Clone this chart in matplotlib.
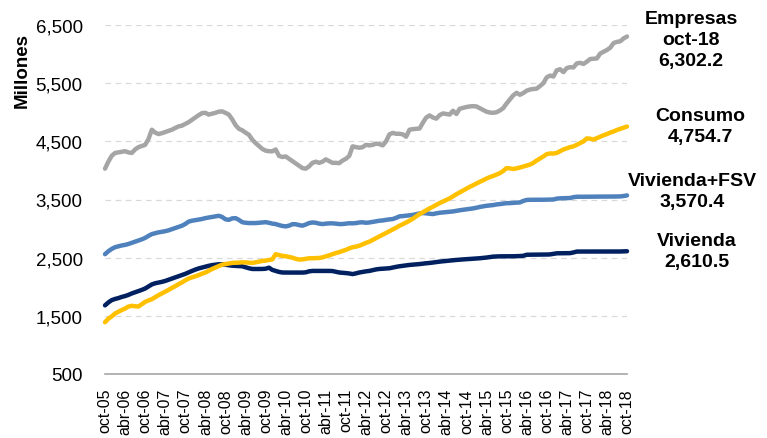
import numpy as np
import matplotlib.pyplot as plt
from matplotlib.ticker import FuncFormatter

plt.rcParams['font.family'] = ['Liberation Sans', 'DejaVu Sans']

# etiquetas del eje x (cada 6 meses, oct-05 a oct-18)
etiquetas = ['oct-05', 'abr-06', 'oct-06', 'abr-07', 'oct-07', 'abr-08', 'oct-08',
             'abr-09', 'oct-09', 'abr-10', 'oct-10', 'abr-11', 'oct-11', 'abr-12',
             'oct-12', 'abr-13', 'oct-13', 'abr-14', 'oct-14', 'abr-15', 'oct-15',
             'abr-16', 'oct-16', 'abr-17', 'oct-17', 'abr-18', 'oct-18']

# saldos mensuales (millones), oct-05 .. oct-18
empresas = [4030, 4150, 4250, 4300, 4310, 4320, 4330, 4310, 4300, 4360, 4400, 4420,
            4440, 4540, 4700, 4650, 4625, 4640, 4660, 4680, 4700, 4730, 4757, 4770,
            4800, 4830, 4870, 4910, 4950, 4985, 4990, 4960, 4975, 4990, 5010, 5015,
            4990, 4960, 4880, 4780, 4716, 4690, 4650, 4613, 4530, 4470, 4420, 4370,
            4340, 4330, 4328, 4360, 4250, 4230, 4240, 4200, 4160, 4120, 4080, 4040,
            4030, 4070, 4130, 4150, 4130, 4150, 4190, 4160, 4130, 4130, 4125, 4170,
            4200, 4250, 4414, 4400, 4390, 4400, 4440, 4430, 4440, 4460, 4453, 4430,
            4500, 4620, 4645, 4630, 4630, 4620, 4580, 4700, 4710, 4715, 4720, 4820,
            4910, 4945, 4910, 4890, 4950, 4980, 4970, 4960, 5025, 4970, 5060, 5075,
            5090, 5100, 5105, 5100, 5070, 5040, 5010, 4995, 4990, 5000, 5030, 5070,
            5150, 5220, 5290, 5335, 5300, 5330, 5370, 5390, 5400, 5405, 5450, 5500,
            5600, 5630, 5615, 5720, 5740, 5690, 5760, 5775, 5770, 5840, 5850, 5830,
            5870, 5915, 5920, 5925, 6010, 6040, 6070, 6110, 6190, 6210, 6220, 6270,
            6302.2]

consumo = [1390, 1450, 1490, 1540, 1570, 1600, 1625, 1660, 1672, 1665, 1660, 1700,
           1740, 1765, 1786, 1820, 1855, 1885, 1915, 1946, 1980, 2010, 2044, 2075,
           2110, 2142, 2160, 2180, 2200, 2225, 2244, 2275, 2305, 2330, 2355, 2380,
           2390, 2400, 2410, 2412, 2415, 2420, 2418, 2414, 2410, 2420, 2432, 2443,
           2450, 2460, 2470, 2560, 2545, 2530, 2525, 2512, 2500, 2480, 2468, 2470,
           2480, 2490, 2490, 2492, 2495, 2505, 2522, 2540, 2560, 2580, 2595, 2615,
           2635, 2660, 2680, 2690, 2705, 2730, 2755, 2775, 2805, 2835, 2867, 2895,
           2925, 2955, 2985, 3015, 3049, 3075, 3105, 3135, 3170, 3210, 3250, 3280,
           3315, 3347, 3375, 3408, 3438, 3465, 3492, 3519, 3555, 3590, 3622, 3655,
           3688, 3718, 3745, 3775, 3804, 3830, 3860, 3885, 3905, 3930, 3953, 3990,
           4040, 4035, 4024, 4035, 4050, 4067, 4085, 4100, 4130, 4170, 4204, 4240,
           4280, 4292, 4290, 4300, 4330, 4360, 4380, 4400, 4414, 4440, 4470, 4500,
           4550, 4545, 4530, 4555, 4580, 4605, 4625, 4650, 4670, 4695, 4715, 4735,
           4754.7]

vivienda_fsv = [2560, 2610, 2650, 2680, 2695, 2710, 2720, 2735, 2755, 2775, 2795, 2815,
                2840, 2875, 2905, 2920, 2935, 2945, 2955, 2970, 2990, 3010, 3030, 3049,
                3080, 3120, 3135, 3145, 3155, 3165, 3180, 3190, 3200, 3210, 3220, 3200,
                3160, 3150, 3175, 3180, 3150, 3110, 3100, 3095, 3095, 3095, 3100, 3105,
                3110, 3100, 3085, 3078, 3060, 3045, 3038, 3050, 3075, 3075, 3060, 3050,
                3070, 3095, 3105, 3100, 3085, 3078, 3085, 3090, 3090, 3085, 3078, 3078,
                3085, 3092, 3090, 3095, 3105, 3108, 3100, 3105, 3115, 3125, 3135, 3140,
                3150, 3158, 3164, 3185, 3210, 3215, 3222, 3230, 3235, 3248, 3260, 3267,
                3262, 3255, 3250, 3262, 3272, 3278, 3284, 3290, 3295, 3305, 3315, 3323,
                3330, 3340, 3347, 3358, 3372, 3382, 3392, 3398, 3404, 3415, 3421, 3430,
                3436, 3438, 3442, 3446, 3450, 3475, 3492, 3495, 3495, 3495, 3495, 3496,
                3497, 3498, 3500, 3515, 3520, 3522, 3524, 3526, 3540, 3547, 3547, 3548,
                3548, 3548, 3549, 3549, 3550, 3550, 3550, 3551, 3551, 3552, 3553, 3560,
                3570.4]

vivienda = [1680, 1730, 1770, 1790, 1805, 1825, 1840, 1860, 1885, 1905, 1925, 1946,
            1970, 2005, 2040, 2060, 2072, 2084, 2100, 2120, 2140, 2160, 2180, 2198,
            2222, 2248, 2272, 2295, 2315, 2330, 2345, 2360, 2372, 2380, 2387, 2387,
            2380, 2370, 2362, 2358, 2355, 2352, 2335, 2318, 2306, 2305, 2306, 2306,
            2310, 2328, 2290, 2272, 2255, 2245, 2244, 2244, 2244, 2244, 2244, 2244,
            2248, 2265, 2272, 2272, 2272, 2272, 2272, 2272, 2270, 2258, 2245, 2240,
            2235, 2228, 2218, 2230, 2245, 2255, 2265, 2272, 2285, 2298, 2306, 2310,
            2314, 2318, 2330, 2342, 2352, 2360, 2368, 2375, 2380, 2386, 2390, 2397,
            2404, 2409, 2416, 2424, 2432, 2438, 2444, 2450, 2456, 2461, 2466, 2470,
            2474, 2477, 2482, 2486, 2490, 2496, 2502, 2510, 2518, 2521, 2523, 2523,
            2523, 2523, 2524, 2526, 2528, 2532, 2550, 2551, 2552, 2552, 2553, 2553,
            2554, 2556, 2565, 2575, 2576, 2577, 2577, 2578, 2590, 2605, 2605, 2605,
            2605, 2605, 2605, 2605, 2606, 2606, 2606, 2606, 2606, 2606, 2606, 2608,
            2610.5]

series = [empresas, vivienda_fsv, vivienda, consumo]
colores = ['#A5A5A5', '#4F81BD', '#002060', '#FFC000']

fig = plt.figure(figsize=(7.67, 4.39), dpi=100)
ax = fig.add_axes([105/767, 64/439, 522/767, 349/439])

meses = np.arange(len(empresas))
for serie, col in zip(series, colores):
    ax.plot(meses, serie, color=col, linewidth=3.2, solid_capstyle='round',
            solid_joinstyle='round', clip_on=False)

ax.set_xlim(0, len(empresas) - 1)
ax.set_ylim(500, 6500)
ax.set_yticks(np.arange(500, 6501, 1000))
ax.yaxis.set_major_formatter(FuncFormatter(lambda v, p: '{:,.0f}'.format(v)))
ax.set_xticks(np.arange(0, len(empresas), 6))
ax.set_xticklabels(etiquetas, rotation=90)

ax.yaxis.grid(True, color='#D9D9D9', linestyle=(0, (4.5, 3.6)), linewidth=0.9)
ax.set_axisbelow(True)
for s in ['top', 'right', 'left']:
    ax.spines[s].set_visible(False)
ax.spines['bottom'].set_color('#A6A6A6')
ax.spines['bottom'].set_linewidth(1.2)
ax.tick_params(axis='y', length=0, pad=16, labelsize=13.5)
ax.tick_params(axis='x', length=0, pad=10, labelsize=11.5)

fig.text(22/767, 1 - 70/439, 'Millones', rotation=90, ha='center', va='center',
         fontsize=13.5, fontweight='bold')

# etiquetas a la derecha (x centro, y centro de la primera linea, texto)
notas = [(691, 21, 'Empresas\noct-18\n6,302.2'),
         (700, 118, 'Consumo\n4,754.7'),
         (692, 183, 'Vivienda+FSV\n3,570.4'),
         (697, 243, 'Vivienda\n2,610.5')]
for x, y, txt in notas:
    fig.text(x/767, 1 - (y - 10)/439, txt, ha='center', va='top', fontsize=14,
             fontweight='bold', linespacing=1.3)

fig.savefig('out.png', dpi=100)
